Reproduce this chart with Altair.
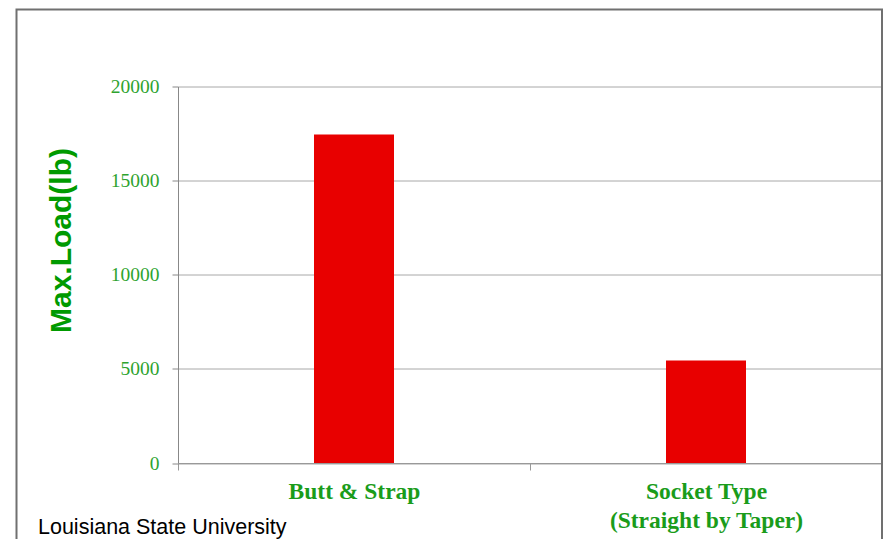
import altair as alt
import pandas as pd

categories = ["Butt & Strap", "Socket Type\n(Straight by Taper)"]
max_load = [17450, 5450]
y_ticks = [0, 5000, 10000, 15000, 20000]
footer_text = ["Louisiana State University"]

df = pd.DataFrame({"cat": categories, "load": max_load})

GREEN_LABEL = "#2ea32e"
GREEN_TITLE = "#009a00"

bars = alt.Chart(df).mark_bar(size=80, color="#e80000").encode(
    x=alt.X(
        "cat:N",
        sort=None,
        scale=alt.Scale(paddingInner=0, paddingOuter=0),
        axis=alt.Axis(
            title=None,
            labelAngle=0,
            tickBand="extent",
            tickSize=7,
            tickColor="#999999",
            domainColor="#999999",
            grid=False,
            labelPadding=9,
            labelLimit=500,
            labelFont="Liberation Serif",
            labelFontWeight="bold",
            labelFontSize=23.5,
            labelColor="#1a9c1a",
            labelLineHeight=29,
            labelExpr="split(datum.label, '\\n')",
        ),
    ),
    y=alt.Y(
        "load:Q",
        scale=alt.Scale(domain=[0, 20000], nice=False),
        axis=alt.Axis(
            values=y_ticks,
            format="d",
            title="Max.Load(lb)",
            titleFont="Liberation Sans",
            titleFontWeight="bold",
            titleFontSize=30,
            titleColor=GREEN_TITLE,
            titleAngle=270,
            titleAlign="center",
            titleBaseline="middle",
            titleX=-117,
            titleY=153.5,
            labelFont="Liberation Serif",
            labelFontSize=19.5,
            labelColor=GREEN_LABEL,
            labelPadding=13,
            tickSize=6,
            tickColor="#888888",
            domainColor="#888888",
            gridColor="#a8a8a8",
            gridWidth=1,
        ),
    ),
)

frame = alt.Chart(pd.DataFrame({"f": [0]})).mark_rect(
    fillOpacity=0, stroke="#707070", strokeWidth=2
).encode(
    x=alt.value(-161.5),
    x2=alt.value(704),
    y=alt.value(-77),
    y2=alt.value(600),
)

footer = alt.Chart(pd.DataFrame({"t": footer_text})).mark_text(
    align="left", baseline="alphabetic", font="Liberation Sans", fontSize=21.5, color="#000000"
).encode(
    text="t:N",
    x=alt.value(-140),
    y=alt.value(447),
)

chart = alt.layer(bars, frame, footer).properties(
    width=704,
    height=376.5,
    autosize=alt.AutoSizeParams(type="none"),
    padding={"left": 170, "top": 78.5, "right": 1, "bottom": 76},
    background="white",
).configure_view(stroke=None)

chart.save("out.html", embed_options={"renderer": "svg", "actions": False})
